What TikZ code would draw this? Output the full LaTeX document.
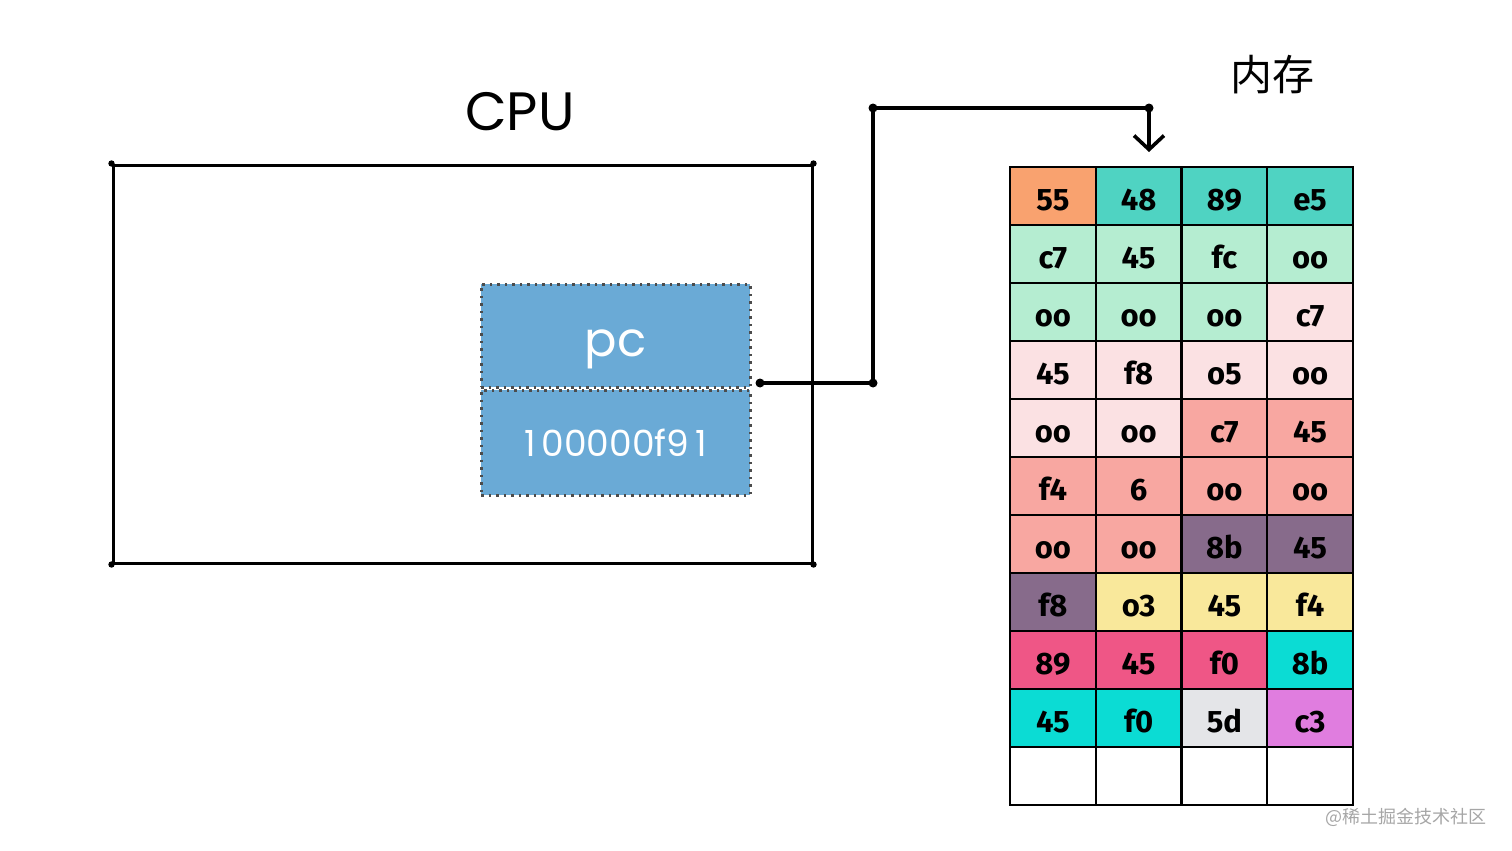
\documentclass[tikz,border=0pt]{standalone}
\usepackage{fontspec}
\setmainfont{Fira Sans}
\newfontfamily\cjkfont{Noto Sans CJK SC}
\newfontfamily\thinfont{Poppins}
\usetikzlibrary{arrows.meta,calc}
\definecolor{cOrange}{HTML}{F9A26F}
\definecolor{cTeal}{HTML}{4FD3C2}
\definecolor{cLGreen}{HTML}{B5EDD1}
\definecolor{cLPink}{HTML}{FBE1E3}
\definecolor{cSalmon}{HTML}{F8A7A1}
\definecolor{cPurple}{HTML}{876B8B}
\definecolor{cYellow}{HTML}{F9E89B}
\definecolor{cRed}{HTML}{EF5686}
\definecolor{cCyan}{HTML}{0BDCD4}
\definecolor{cGray}{HTML}{E4E5E8}
\definecolor{cOrchid}{HTML}{E07DDF}
\definecolor{cBlue}{HTML}{6AAAD6}
\tikzset{
  memcell/.style={draw=black, line width=2.4pt, minimum width=85.75pt, minimum height=58pt,
    inner sep=0pt, text height=28pt, text depth=0pt, font=\bfseries\fontsize{31}{31}\selectfont, text=black},
  sketchline/.style={line width=3.6pt, line cap=round, line join=round},
  regbox/.style={draw=gray!60!black, line width=3pt, dash pattern=on 2.5pt off 5pt, fill=cBlue, minimum width=269pt,
    inner sep=0pt, text=white}
}
\begin{document}
\begin{tikzpicture}[x=1pt,y=-1pt]
\useasboundingbox (0,0) rectangle (1512,851);
% CPU
\node[draw=black, line width=3pt, minimum width=699pt, minimum height=398pt, inner sep=0pt] (cpu) at (462.5,364) {};
\foreach \a in {north west,north east,south west,south east}
  \fill (cpu.\a) circle (3.2pt);
\node[font=\thinfont\fontsize{54}{54}\selectfont] (cpulabel) at (520,112) {CPU};
% PC register
\node[regbox, minimum height=103pt, text height=42pt, text depth=0pt, font=\thinfont\fontsize{48}{48}\selectfont] (pctop) at (615.5,335.5) {pc};
\node[regbox, minimum height=105pt, text height=28pt, text depth=0pt, font=\thinfont\fontsize{36}{36}\selectfont, anchor=north] (pcval) at (pctop.south) {1\,00000f9\,1};
% memory grid
\newcommand{\cellrow}[9]{%
  \node[memcell, fill=#2] (m-#1-1) at (1052.9,{196+58*(#1-1)}) {#3};
  \node[memcell, fill=#4] (m-#1-2) at (1138.6,{196+58*(#1-1)}) {#5};
  \node[memcell, fill=#6] (m-#1-3) at (1224.4,{196+58*(#1-1)}) {#7};
  \node[memcell, fill=#8] (m-#1-4) at (1310.1,{196+58*(#1-1)}) {#9};
}
\cellrow{1}{cOrange}{55}{cTeal}{48}{cTeal}{89}{cTeal}{e5}
\cellrow{2}{cLGreen}{c7}{cLGreen}{45}{cLGreen}{fc}{cLGreen}{oo}
\cellrow{3}{cLGreen}{oo}{cLGreen}{oo}{cLGreen}{oo}{cLPink}{c7}
\cellrow{4}{cLPink}{45}{cLPink}{f8}{cLPink}{o5}{cLPink}{oo}
\cellrow{5}{cLPink}{oo}{cLPink}{oo}{cSalmon}{c7}{cSalmon}{45}
\cellrow{6}{cSalmon}{f4}{cSalmon}{6}{cSalmon}{oo}{cSalmon}{oo}
\cellrow{7}{cSalmon}{oo}{cSalmon}{oo}{cPurple}{8b}{cPurple}{45}
\cellrow{8}{cPurple}{f8}{cYellow}{o3}{cYellow}{45}{cYellow}{f4}
\cellrow{9}{cRed}{89}{cRed}{45}{cRed}{f0}{cCyan}{8b}
\cellrow{10}{cCyan}{45}{cCyan}{f0}{cGray}{5d}{cOrchid}{c3}
\cellrow{11}{white}{}{white}{}{white}{}{white}{}
\node[font=\cjkfont\fontsize{42}{42}\selectfont] (memlabel) at (1272,75) {内存};
% connector
\coordinate (cstart) at (760,383);
\coordinate (c1) at (873,383);
\coordinate (c2) at (873,108);
\coordinate (c3) at (1149,108);
\coordinate (ctip) at (1149,152);
\draw[sketchline, -{Straight Barb[length=14pt,width=30pt,line width=3.6pt]}] (cstart) -- (c1) -- (c2) -- (c3) -- (ctip);
\foreach \p in {cstart,c1,c2,c3} \fill (\p) circle (4.5pt);
% watermark
\node[font=\cjkfont\fontsize{18}{18}\selectfont, text=gray!70, anchor=east] (wm) at (1490,817) {@稀土掘金技术社区};
\end{tikzpicture}
\end{document}
